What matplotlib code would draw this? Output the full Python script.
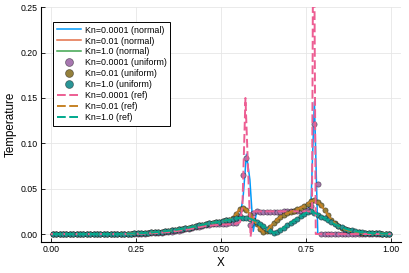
import numpy as np
import matplotlib
matplotlib.use('Agg')
from matplotlib import pyplot as plt

# cell centres of the uniform grid
x_grid = np.arange(0.005, 1.0, 0.01)

# Kn = 0.0001
t_kn00001_uniform = [
    0, 0, 0, 0, 0, 0, 0, 0, 0, 0,
    0, 0, 0, 0, 0, 0, 0, 0, 0, 0,
    0, 0, 0, 0, 0, 0.0003, 0.0004, 0.0005, 0.0007, 0.0009,
    0.0011, 0.0013, 0.0016, 0.0019, 0.0023, 0.0027, 0.0032, 0.0037, 0.0043, 0.0050,
    0.0057, 0.0064, 0.0072, 0.0080, 0.0088, 0.0095, 0.0101, 0.0106, 0.0110, 0.0112,
    0.0114, 0.0115, 0.0116, 0.0118, 0.0125, 0.020, 0.065, 0.084, 0.010, 0.023,
    0.025, 0.0248, 0.0247, 0.0246, 0.0246, 0.0246, 0.0247, 0.0248, 0.0249, 0.025,
    0.0251, 0.0252, 0.0254, 0.0256, 0.026, 0.027, 0.031, 0.121, 0.055, 0.0,
    0, 0, 0, 0, 0, 0, 0, 0, 0, 0,
    0, 0, 0, 0, 0, 0, 0, 0, 0, 0,
]
t_kn00001_normal = [
    0, 0, 0, 0, 0, 0, 0, 0, 0, 0,
    0, 0, 0, 0, 0, 0, 0, 0, 0, 0,
    0, 0, 0, 0, 0, 0.0003, 0.0004, 0.0005, 0.0007, 0.0009,
    0.0011, 0.0013, 0.0016, 0.0019, 0.0023, 0.0027, 0.0032, 0.0037, 0.0043, 0.0050,
    0.0057, 0.0064, 0.0072, 0.0080, 0.0088, 0.0095, 0.0101, 0.0106, 0.0110, 0.0112,
    0.0114, 0.0115, 0.0116, 0.0118, 0.0125, 0.018, 0.040, 0.088, 0.060, 0.003,
    0.025, 0.0248, 0.0247, 0.0246, 0.0246, 0.0246, 0.0247, 0.0248, 0.0249, 0.025,
    0.0251, 0.0252, 0.0254, 0.0256, 0.026, 0.027, 0.035, 0.146, 0.0, 0.0,
    0, 0, 0, 0, 0, 0, 0, 0, 0, 0,
    0, 0, 0, 0, 0, 0, 0, 0, 0, 0,
]
x_kn00001_ref = [0.0, 0.2, 0.25, 0.3, 0.35, 0.4, 0.45, 0.5, 0.54, 0.556, 0.563, 0.572, 0.587,
                 0.598, 0.65, 0.7, 0.75, 0.768, 0.7725, 0.779, 0.781, 0.85, 1.0]
t_kn00001_ref = [0.0, 0.0, 0.0002, 0.0008, 0.0022, 0.0048, 0.0085, 0.0105, 0.0108, 0.013, 0.03, 0.15, -0.003,
                 0.025, 0.025, 0.025, 0.025, 0.025, 0.45, 0.0, 0.0, 0.0, 0.0]

# Kn = 0.01
t_kn001_uniform = [
    0, 0, 0, 0, 0, 0, 0, 0, 0, 0,
    0, 0, 0, 0, 0, 0, 0, 0, 0, 0,
    0.0002, 0.0003, 0.0004, 0.0005, 0.0006, 0.0008, 0.0010, 0.0012, 0.0014, 0.0017,
    0.0020, 0.0023, 0.0027, 0.0031, 0.0035, 0.0040, 0.0045, 0.0051, 0.0057, 0.0064,
    0.0071, 0.0078, 0.0086, 0.0094, 0.0102, 0.0110, 0.0117, 0.0124, 0.0130, 0.0136,
    0.0142, 0.0150, 0.0160, 0.0180, 0.0225, 0.0275, 0.0290, 0.0265, 0.0215, 0.0160,
    0.0105, 0.0055, 0.0020, 0.0030, 0.0080, 0.0125, 0.0160, 0.0190, 0.0210, 0.0228,
    0.0243, 0.0257, 0.0272, 0.0290, 0.0310, 0.0335, 0.0360, 0.0370, 0.0355, 0.0315,
    0.0265, 0.0210, 0.0160, 0.0120, 0.0088, 0.0066, 0.0050, 0.0039, 0.0031, 0.0025,
    0.0020, 0.0016, 0.0013, 0.0011, 0.0009, 0.0007, 0.0006, 0.0005, 0.0004, 0.0003,
]
t_kn001_normal = t_kn001_uniform
t_kn001_ref = t_kn001_uniform

# Kn = 1.0
t_kn1_uniform = [
    0, 0, 0, 0, 0, 0, 0, 0, 0, 0,
    0, 0, 0, 0, 0, 0, 0, 0, 0, 0,
    0.0002, 0.0003, 0.0004, 0.0005, 0.0006, 0.0008, 0.0010, 0.0012, 0.0014, 0.0017,
    0.0020, 0.0023, 0.0027, 0.0031, 0.0035, 0.0040, 0.0045, 0.0051, 0.0057, 0.0064,
    0.0071, 0.0078, 0.0086, 0.0094, 0.0102, 0.0110, 0.0117, 0.0124, 0.0130, 0.0136,
    0.0142, 0.0150, 0.0158, 0.0165, 0.0172, 0.0178, 0.0180, 0.0178, 0.0170, 0.0155,
    0.0135, 0.0110, 0.0085, 0.0060, 0.0035, 0.0012, 0.0020, 0.0045, 0.0070, 0.0095,
    0.0120, 0.0145, 0.0170, 0.0195, 0.0220, 0.0245, 0.0250, 0.0235, 0.0215, 0.0193,
    0.0172, 0.0150, 0.0128, 0.0108, 0.0090, 0.0074, 0.0060, 0.0048, 0.0039, 0.0031,
    0.0025, 0.0020, 0.0016, 0.0013, 0.0010, 0.0008, 0.0006, 0.0005, 0.0004, 0.0003,
]
t_kn1_normal = t_kn1_uniform
t_kn1_ref = t_kn1_uniform

x_ticks = [0.0, 0.25, 0.5, 0.75, 1.0]
y_ticks = [0.0, 0.05, 0.10, 0.15, 0.20, 0.25]

plt.rcParams['font.family'] = ['Liberation Sans', 'DejaVu Sans']

fig = plt.figure(figsize=(4.09, 2.73), dpi=100)
ax = fig.add_axes([41 / 409, 31 / 273, 360 / 409, 234.7 / 273])

lw = 1.1
dash = (0, (4.5, 1.8))
mk = dict(linestyle='none', marker='o', markersize=3.8, markeredgewidth=0.5,
          markeredgecolor=(0, 0, 0, 0.5))

ax.plot(x_grid, t_kn00001_normal, color='#009AFA', lw=lw, label='Kn=0.0001 (normal)')
ax.plot(x_grid, t_kn001_normal, color='#E36F47', lw=lw, label='Kn=0.01 (normal)')
ax.plot(x_grid, t_kn1_normal, color='#3EA44E', lw=lw, label='Kn=1.0 (normal)')
ax.plot(x_grid, t_kn00001_uniform, color='#A777B0', label='Kn=0.0001 (uniform)', **mk)
ax.plot(x_grid, t_kn001_uniform, color='#94803C', label='Kn=0.01 (uniform)', **mk)
ax.plot(x_grid, t_kn1_uniform, color='#2A9596', label='Kn=1.0 (uniform)', **mk)
ax.plot(x_kn00001_ref, t_kn00001_ref, color='#ED5E93', lw=1.4, linestyle=dash, label='Kn=0.0001 (ref)')
ax.plot(x_grid, t_kn001_ref, color='#C68225', lw=1.4, linestyle=dash, label='Kn=0.01 (ref)')
ax.plot(x_grid, t_kn1_ref, color='#00A98D', lw=1.4, linestyle=dash, label='Kn=1.0 (ref)')

ax.set_xlim(-0.03, 1.03)
ax.set_ylim(-0.0088, 0.25)
ax.set_xticks(x_ticks)
ax.set_xticklabels(['0.00', '0.25', '0.50', '0.75', '1.00'])
ax.set_yticks(y_ticks)
ax.set_yticklabels(['0.00', '0.05', '0.10', '0.15', '0.20', '0.25'])
ax.grid(True, color='#e6e6e6', lw=0.6)
ax.set_axisbelow(True)
for s in ['top', 'right']:
    ax.spines[s].set_visible(False)
for s in ['left', 'bottom']:
    ax.spines[s].set_linewidth(0.8)
ax.tick_params(direction='in', length=3, width=0.6, labelsize=6.3, pad=2.4)
ax.set_xlabel('X', fontsize=8.4, labelpad=2)
ax.set_ylabel('Temperature', fontsize=8.4, labelpad=2.5)

leg = ax.legend(loc='upper left', bbox_to_anchor=(53 / 409, 1 - 22 / 273), bbox_transform=fig.transFigure,
                fontsize=6.4, frameon=True, fancybox=False, edgecolor='black', framealpha=1,
                borderaxespad=0, borderpad=0.4, handlelength=2.7, handletextpad=0.45,
                labelspacing=0.22, markerscale=1.5)
leg.get_frame().set_linewidth(0.7)

fig.savefig('out.png', dpi=100)
